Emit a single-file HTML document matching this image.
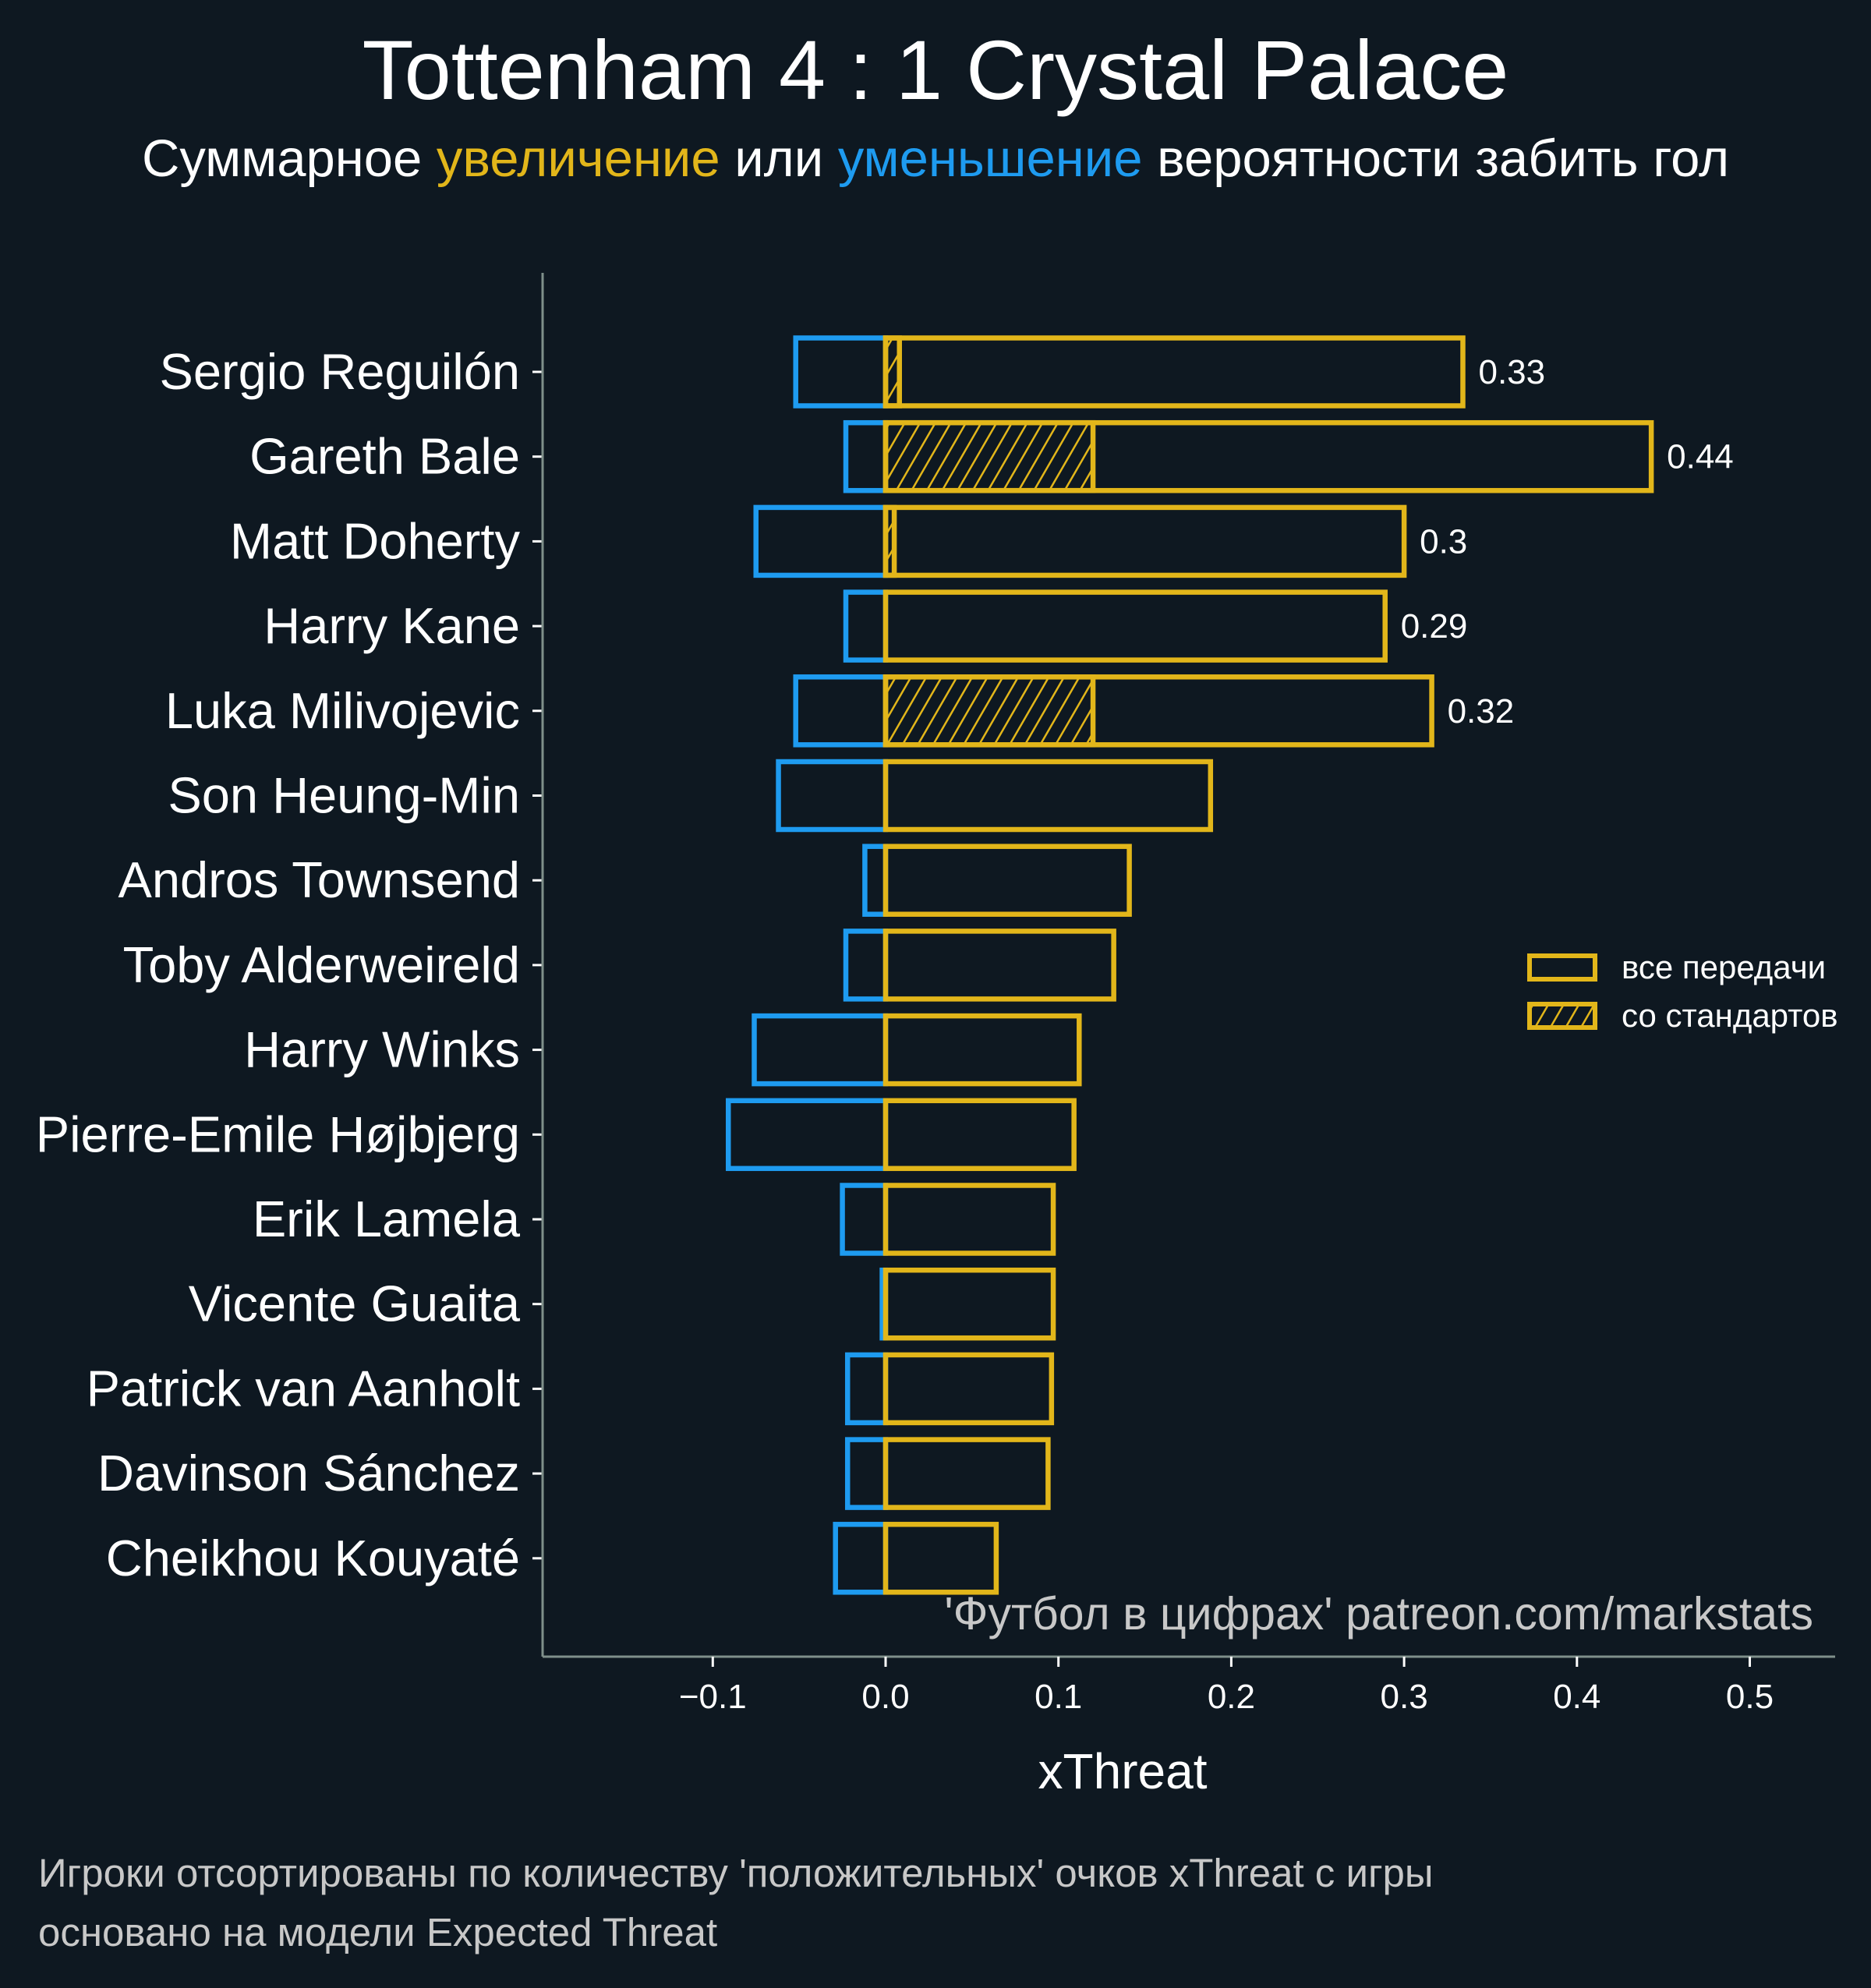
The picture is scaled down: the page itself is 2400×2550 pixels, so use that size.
<!DOCTYPE html>
<html><head><meta charset="utf-8">
<style>
html,body{margin:0;padding:0;background:#0e1821;}
svg{display:block;font-family:"Liberation Sans","DejaVu Sans",sans-serif;}
</style></head>
<body>
<svg id="chart" width="2400" height="2550" viewBox="0 0 2400 2550" xmlns="http://www.w3.org/2000/svg">
<defs>
<pattern id="hatch" patternUnits="userSpaceOnUse" width="17" height="17" patternTransform="rotate(30)">
<line x1="0" y1="0" x2="0" y2="17" stroke="#e2b61a" stroke-width="5"/>
</pattern>
</defs>
<rect x="0" y="0" width="2400" height="2550" fill="#0e1821"/>
<text x="1200" y="127" text-anchor="middle" font-size="108" fill="#ffffff">Tottenham 4 : 1 Crystal Palace</text>
<text x="1200" y="226" text-anchor="middle" font-size="67" fill="#ffffff">Суммарное <tspan fill="#e2b61a">увеличение</tspan> или <tspan fill="#1e9bf0">уменьшение</tspan> вероятности забить гол</text>
<g id="plot"></g>
<text x="2326" y="2090" text-anchor="end" font-size="59" fill="#c8c8c8">'Футбол в цифрах' patreon.com/markstats</text>
<text x="1440" y="2294" text-anchor="middle" font-size="64" fill="#ffffff">xThreat</text>
<text x="49" y="2420" font-size="51" fill="#c8c8c8">Игроки отсортированы по количеству 'положительных' очков xThreat с игры</text>
<text x="49" y="2496" font-size="51" fill="#c8c8c8">основано на модели Expected Threat</text>
<g>
<rect x="1962" y="1226" width="84" height="30" fill="none" stroke="#e2b61a" stroke-width="6"/>
<text x="2080" y="1255" font-size="42" fill="#ffffff">все передачи</text>
<rect x="1962" y="1288" width="84" height="30" fill="url(#hatch)" stroke="#e2b61a" stroke-width="6"/>
<text x="2080" y="1317" font-size="42" fill="#ffffff">со стандартов</text>
</g>
</svg>
<script>
const players = ["Sergio Reguilón","Gareth Bale","Matt Doherty","Harry Kane","Luka Milivojevic","Son Heung-Min","Andros Townsend","Toby Alderweireld","Harry Winks","Pierre-Emile Højbjerg","Erik Lamela","Vicente Guaita","Patrick van Aanholt","Davinson Sánchez","Cheikhou Kouyaté"];
const positiveValues = [0.334,0.443,0.300,0.289,0.316,0.188,0.141,0.132,0.112,0.109,0.097,0.097,0.096,0.094,0.064];
const negativeValues = [-0.052,-0.023,-0.075,-0.023,-0.052,-0.062,-0.012,-0.023,-0.076,-0.091,-0.025,-0.002,-0.022,-0.022,-0.029];
const setPieceValues = [0.008,0.120,0.005,0,0.120,0,0,0,0,0,0,0,0,0,0];
const valueLabels = ["0.33","0.44","0.3","0.29","0.32","","","","","","","","","",""];
const xTicks = [-0.1,0.0,0.1,0.2,0.3,0.4,0.5];
const xTickLabels = ["−0.1","0.0","0.1","0.2","0.3","0.4","0.5"];

(function(){
const NS = "http://www.w3.org/2000/svg";
const plot = document.getElementById('plot');
const X0 = 1136, PX = 2217;
const xs = v => X0 + v * PX;
const rowTop = 477, rowStep = 108.7;
const ys = i => rowTop + i * rowStep;
const barH = 87;
const axLeft = 696, axRight = 2354, axTop = 350, axBottom = 2125;

function mk(tag, attrs){ const e=document.createElementNS(NS,tag); for(const k in attrs) e.setAttribute(k,attrs[k]); plot.appendChild(e); return e; }

players.forEach((p,i)=>{
  const cy = ys(i);
  let e = mk('rect',{x:xs(negativeValues[i]),y:cy-barH/2,width:xs(0)-xs(negativeValues[i]),height:barH,fill:'none',stroke:'#1e9bf0','stroke-width':6.5});
  
  
  if(setPieceValues[i]>0){
    e = mk('rect',{x:xs(0),y:cy-barH/2,width:xs(setPieceValues[i])-xs(0),height:barH,fill:'url(#hatch)',stroke:'#e2b61a','stroke-width':6.5});
    
    
  }
  e = mk('rect',{x:xs(0),y:cy-barH/2,width:xs(positiveValues[i])-xs(0),height:barH,fill:'none',stroke:'#e2b61a','stroke-width':6.5});
  
  
  if(valueLabels[i]){
    e = mk('text',{x:xs(positiveValues[i])+20,y:cy+15,'font-size':44,fill:'#ffffff'});
    e.textContent = valueLabels[i];
    
    
  }
  e = mk('line',{x1:axLeft-13,x2:axLeft,y1:cy,y2:cy,stroke:'#ffffff','stroke-width':3});
  
  
  e = mk('text',{x:667,y:cy+22,'text-anchor':'end','font-size':65,fill:'#ffffff'});
  e.textContent = p;
  
  
});

let s = mk('line',{x1:axLeft,x2:axLeft,y1:axTop,y2:axBottom,stroke:'#7f8f8a','stroke-width':3});


s = mk('line',{x1:axLeft,x2:axRight,y1:axBottom,y2:axBottom,stroke:'#7f8f8a','stroke-width':3});



xTicks.forEach((t,i)=>{
  let e = mk('line',{x1:xs(t),x2:xs(t),y1:axBottom,y2:axBottom+13,stroke:'#ffffff','stroke-width':3});
  
  
  e = mk('text',{x:xs(t),y:2191,'text-anchor':'middle','font-size':44,fill:'#ffffff'});
  e.textContent = xTickLabels[i];
  
  
});
})();
</script>
</body></html>
